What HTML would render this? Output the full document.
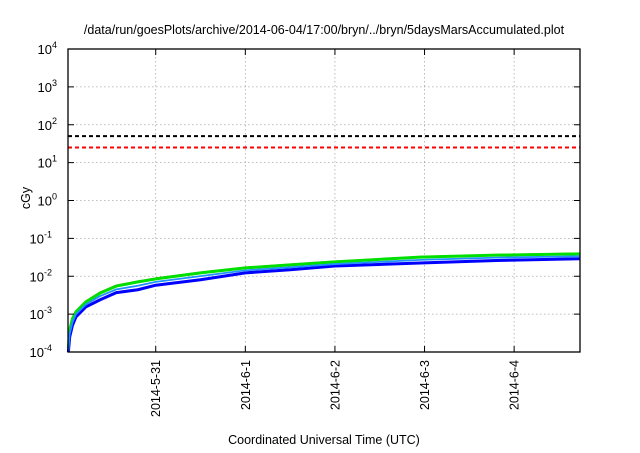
<!DOCTYPE html>
<html><head><meta charset="utf-8"><style>
body{margin:0;background:#fff;}
svg text{font-family:"Liberation Sans",Arial,sans-serif;fill:#000;}
</style></head><body>
<svg id="chart" width="640" height="448" xmlns="http://www.w3.org/2000/svg">
<text x="324" y="34" font-size="12.5" text-anchor="middle">/data/run/goesPlots/archive/2014-06-04/17:00/bryn/../bryn/5daysMarsAccumulated.plot</text>
<text x="0" y="0" font-size="12.5" text-anchor="middle" transform="translate(30,198) rotate(-90)">cGy</text>
<text x="324" y="444" font-size="12.5" text-anchor="middle">Coordinated Universal Time (UTC)</text>
<g id="grid"></g>
<g id="marks"></g>
<g id="axes"></g>
</svg>
<script>
const xTickDays = [0, 1, 2, 3, 4];
const xTickLabels = ["2014-5-31", "2014-6-1", "2014-6-2", "2014-6-3", "2014-6-4"];
const yTickExps = [-4, -3, -2, -1, 0, 1, 2, 3, 4];
const limitBlack = 50;
const limitRed = 25;
const days = [-0.975, -0.96, -0.93, -0.89, -0.78, -0.62, -0.44, -0.2, 0, 0.5, 1, 1.5, 2, 2.95, 3.8, 4.73];
const redSeries = [0.00014, 0.0004, 0.0008, 0.00122, 0.0022, 0.0038, 0.0058, 0.0074, 0.0089, 0.0128, 0.0172, 0.0208, 0.0248, 0.033, 0.0372, 0.0405];
const greenSeries = [0.00013, 0.00038, 0.00075, 0.00115, 0.0021, 0.0036, 0.0055, 0.0071, 0.0085, 0.0123, 0.0166, 0.020, 0.024, 0.032, 0.036, 0.039];
const cyanSeries = [0.00011, 0.0003, 0.0006, 0.001, 0.0018, 0.003, 0.0045, 0.0056, 0.0071, 0.0101, 0.0143, 0.0172, 0.021, 0.027, 0.031, 0.0337];
const blueSeries = [0.0001, 0.00025, 0.0005, 0.00085, 0.00155, 0.0024, 0.0037, 0.0044, 0.0058, 0.0081, 0.0123, 0.0148, 0.0186, 0.0224, 0.026, 0.029];

const L = 68, R = 580, T = 49, B = 352;
const dMin = -0.979, dMax = 4.735;
const xs = d => L + (d - dMin) / (dMax - dMin) * (R - L);
const ys = v => B - (Math.log10(v) + 4) / 8 * (B - T);
const NS = "http://www.w3.org/2000/svg";
function mk(tag, attrs, parent) {
  const e = document.createElementNS(NS, tag);
  for (const k in attrs) e.setAttribute(k, attrs[k]);
  parent.appendChild(e); return e;
}
const grid = document.getElementById('grid'), marks = document.getElementById('marks'), axes = document.getElementById('axes');
yTickExps.forEach(ex => {
  const y = ys(Math.pow(10, ex));
  if (ex > -4 && ex < 4) {
    const g = mk('line', {x1: L, x2: R, y1: y, y2: y, stroke: '#aaa', 'stroke-width': 0.8, 'stroke-dasharray': '1.5,2.5'}, grid);
    
    
  }
  const t1 = mk('line', {x1: L, x2: L + 6, y1: y, y2: y, stroke: '#000'}, axes);
  
  
  const t2 = mk('line', {x1: R - 6, x2: R, y1: y, y2: y, stroke: '#000'}, axes);
  
  
  const tx = mk('text', {x: 62, y: y + 5, 'font-size': 13, 'text-anchor': 'end'}, axes);
  
  
  tx.textContent = '10';
  const sp = mk('tspan', {dy: -6, 'font-size': 9}, tx);
  sp.textContent = String(ex);
  tx.setAttribute('x', 62 - (String(ex).length * 5));
});
xTickDays.forEach((d, i) => {
  const x = xs(d);
  const g = mk('line', {x1: x, x2: x, y1: T, y2: B, stroke: '#aaa', 'stroke-width': 0.8, 'stroke-dasharray': '1.5,2.5'}, grid);
  
  
  const t1 = mk('line', {x1: x, x2: x, y1: B - 6, y2: B, stroke: '#000'}, axes);
  
  
  const t2 = mk('line', {x1: x, x2: x, y1: T, y2: T + 6, stroke: '#000'}, axes);
  
  
  const tx = mk('text', {x: 0, y: 0, 'font-size': 12.5, 'text-anchor': 'end', transform: `translate(${x + 4.5},360) rotate(-90)`}, axes);
  
  
  tx.textContent = xTickLabels[i];
});
[[limitBlack, '#000', 'limit-line-black'], [limitRed, '#f00', 'limit-line-red']].forEach(([v, c, n]) => {
  const l = mk('line', {x1: L, x2: R, y1: ys(v), y2: ys(v), stroke: c, 'stroke-width': 2, 'stroke-dasharray': '4,3'}, marks);
  
  
});
[[redSeries, '#e07050', 1.5, 'series-red'], [greenSeries, '#00e000', 3, 'series-green'], [blueSeries, '#0000ff', 3, 'series-blue'], [cyanSeries, '#2090ff', 1.8, 'series-cyan']].forEach(([s, c, w, n]) => {
  const p = mk('polyline', {points: s.map((v, i) => xs(days[i]) + ',' + ys(v)).join(' '), fill: 'none', stroke: c, 'stroke-width': w, 'stroke-linejoin': 'round'}, marks);
  
  
});
const fr = mk('rect', {x: L, y: T, width: R - L, height: B - T, fill: 'none', stroke: '#000', 'stroke-width': 1.3}, axes);


</script>
</body></html>
